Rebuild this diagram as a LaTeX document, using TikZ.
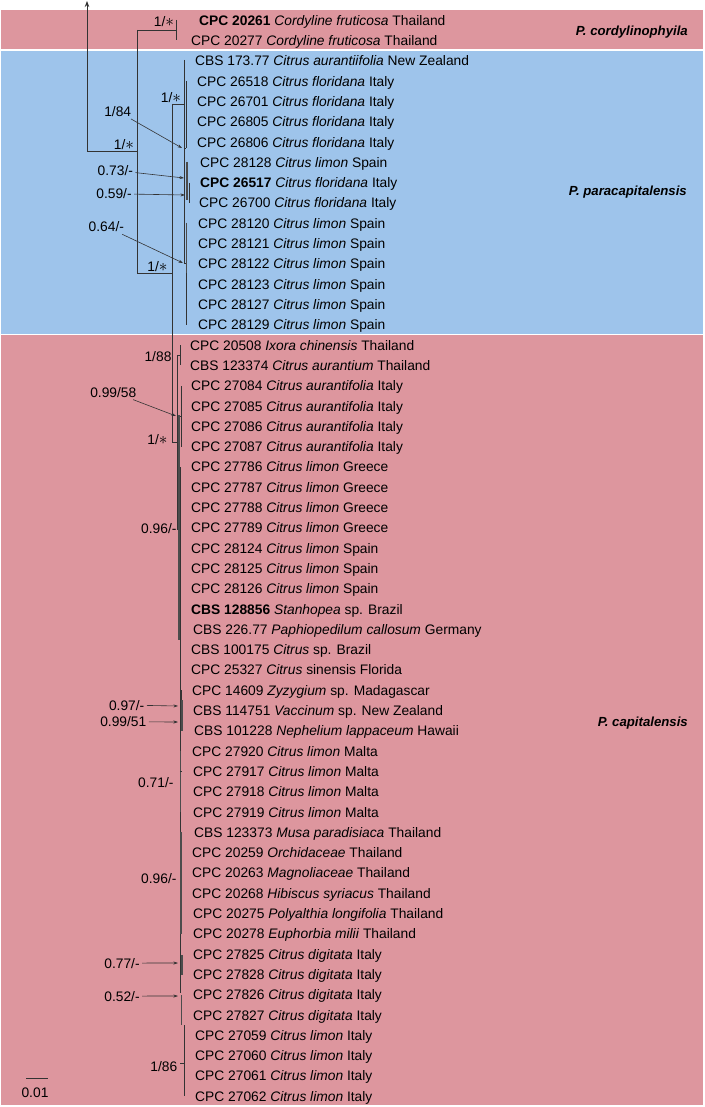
\documentclass[tikz,border=0pt]{standalone}
\usepackage{fontspec}
\setmainfont{Liberation Sans}
\usetikzlibrary{arrows.meta}
\definecolor{bandpink}{RGB}{221,150,158}
\definecolor{bandblue}{RGB}{158,196,235}
\tikzset{
  clade band/.style={fill=#1, draw=white, line width=1pt},
  tree line/.style={line width=0.9pt, black!80},
  heavy line/.style={line width=1.8pt, black!70},
  root arrow/.style={tree line, -{Stealth[length=6pt, width=4.5pt]}},
  taxon label/.style={anchor=base west, inner sep=0pt, font=\fontsize{13.8}{16}\selectfont},
  clade label/.style={anchor=base east, inner sep=0pt, font=\fontsize{13.2}{15}\selectfont\bfseries\itshape},
  support label/.style={anchor=base, inner sep=0pt, outer sep=2.5pt, font=\fontsize{13.8}{16}\selectfont},
  support arrow/.style={-{Stealth[length=4.5pt, width=3pt]}, line width=0.6pt, black!80},
  >=Stealth,
}
\newcommand{\taxonRow}[5]{
  \node[taxon label] (tx#1) at (#2, {20.3*#1+5}) {#3 \textit{#4} #5};
}
\newcommand{\support}[4]{
  \node[support label] (#1) at (#2, {#3+5}) {#4};
}
\newcommand{\st}{{\fontsize{16}{16}\selectfont$\ast$}}

\begin{document}
\begin{tikzpicture}[x=1pt, y=-1pt]
  \useasboundingbox (0,0) rectangle (704,1107);
  % clade bands
  \fill[clade band=bandpink] (0,10) rectangle (703,50);
  \fill[clade band=bandblue] (0,50.5) rectangle (703,334);
  \fill[clade band=bandpink] (0,334.5) rectangle (703,1105);
  \path[draw=white, line width=1pt] (0,10) rectangle (703,50) (0,50.5) rectangle (703,334) (0,334.5) rectangle (703,1105);

  % clade names
  \node[clade label] (cl1) at (688,35.5) {P. cordylinophyila};
  \node[clade label] (cl2) at (687,196) {P. paracapitalensis};
  \node[clade label] (cl3) at (688,726) {P. capitalensis};

  % backbone
  \draw[root arrow] (87,151) -- (87,1);
  \draw[tree line] (87,151) -- (137,151);
  \draw[tree line] (137,30) -- (137,273);
  \draw[tree line] (137,30) -- (176,30) (176,20) -- (176,40);
  \draw[tree line] (137,273) -- (172,273) (172,104) -- (172,442);

  % P. paracapitalensis
  \draw[tree line] (172,104) -- (184,104) (184,60) -- (184,148);
  \draw[tree line] (184,148) -- (186,148) (186,81) -- (186,148);
  \draw[tree line] (184,148) -- (184,263) -- (186,263);
  \draw[heavy line] (187,162) -- (187,200);
  \draw[tree line] (189,183) -- (189,203);
  \draw[tree line] (186,223) -- (186,325);
  \draw[heavy line] (186.5,223) -- (186.5,273);

  % P. capitalensis
  \draw[tree line] (172,442) -- (177,442) (177,355) -- (177,529);
  \draw[tree line] (177,355) -- (180,355) (180,345) -- (180,365);
  \draw[tree line] (177,416) -- (181,416) (181,386) -- (181,447);
  \draw[tree line] (177,529) -- (179,529);
  \draw[heavy line] (179,415) -- (179,640);
  \draw[tree line] (180,467) -- (180,993);
  \draw[tree line] (181,690) -- (181,731);
  \draw[heavy line] (182,700) -- (182,731);
  \draw[heavy line] (180.5,751) -- (180.5,812);
  \draw[tree line] (180,771) -- (182,771);
  \draw[heavy line] (181,832) -- (181,934);
  \draw[heavy line] (182,955) -- (182,975);
  \draw[heavy line] (181.5,995) -- (181.5,1025);
  \draw[tree line] (180,1063) -- (184,1063) (184,1025) -- (184,1096);

  % support values
  \support{s1}{124}{144.5}{1/\st}
  \support{s2}{164}{22}{1/\st}
  \support{s3}{171}{97.5}{1/\st}
  \support{s4}{157.5}{266}{1/\st}
  \support{s5}{117.7}{111.3}{1/84}
  \support{s6}{115.3}{170.3}{0.73/-}
  \support{s7}{114}{193.7}{0.59/-}
  \support{s8}{106.3}{226.7}{0.64/-}
  \support{s9}{158}{356}{1/88}
  \support{s10}{113.3}{392}{0.99/58}
  \support{s11}{157.5}{439}{1/\st}
  \support{s12}{158.8}{528}{0.96/-}
  \support{s13}{126.7}{705}{0.97/-}
  \support{s14}{123.3}{721.7}{0.99/51}
  \support{s15}{155.8}{782}{0.71/-}
  \support{s16}{158.8}{878.5}{0.96/-}
  \support{s17}{122}{963}{0.77/-}
  \support{s18}{122}{996}{0.52/-}
  \support{s19}{163.8}{1066}{1/86}

  \coordinate (n5) at (182,148);
  \coordinate (n6) at (184,178);
  \coordinate (n7) at (185,195);
  \coordinate (n8) at (183,263);
  \coordinate (n10) at (176,416);
  \coordinate (n13) at (178,706);
  \coordinate (n14) at (178,722);
  \coordinate (n17) at (178,963);
  \coordinate (n18) at (178,996);
  \draw[support arrow] (s5) -- (n5);
  \draw[support arrow] (s6) -- (n6);
  \draw[support arrow] (s7) -- (n7);
  \draw[support arrow] (s8) -- (n8);
  \draw[support arrow] (s10) -- (n10);
  \draw[support arrow] (s13) -- (n13);
  \draw[support arrow] (s14) -- (n14);
  \draw[support arrow] (s17) -- (n17);
  \draw[support arrow] (s18) -- (n18);

  % scale bar
  \draw[tree line] (26,1078) coordinate (sbl) -- (48,1078) coordinate (sbr);
  \node[support label] (sb) at (35,1097) {0.01};

  % taxa
  \taxonRow{1}{199}{\textbf{CPC 20261}}{Cordyline fruticosa}{Thailand}
  \taxonRow{2}{191}{CPC 20277}{Cordyline fruticosa}{Thailand}
  \taxonRow{3}{195}{CBS 173.77}{Citrus aurantiifolia}{New Zealand}
  \taxonRow{4}{197}{CPC 26518}{Citrus floridana}{Italy}
  \taxonRow{5}{197}{CPC 26701}{Citrus floridana}{Italy}
  \taxonRow{6}{197}{CPC 26805}{Citrus floridana}{Italy}
  \taxonRow{7}{197}{CPC 26806}{Citrus floridana}{Italy}
  \taxonRow{8}{200}{CPC 28128}{Citrus limon}{Spain}
  \taxonRow{9}{200}{\textbf{CPC 26517}}{Citrus floridana}{Italy}
  \taxonRow{10}{199}{CPC 26700}{Citrus floridana}{Italy}
  \taxonRow{11}{198}{CPC 28120}{Citrus limon}{Spain}
  \taxonRow{12}{198}{CPC 28121}{Citrus limon}{Spain}
  \taxonRow{13}{198}{CPC 28122}{Citrus limon}{Spain}
  \taxonRow{14}{198}{CPC 28123}{Citrus limon}{Spain}
  \taxonRow{15}{198}{CPC 28127}{Citrus limon}{Spain}
  \taxonRow{16}{198}{CPC 28129}{Citrus limon}{Spain}
  \taxonRow{17}{190}{CPC 20508}{Ixora chinensis}{Thailand}
  \taxonRow{18}{190}{CBS 123374}{Citrus aurantium}{Thailand}
  \taxonRow{19}{191}{CPC 27084}{Citrus aurantifolia}{Italy}
  \taxonRow{20}{191}{CPC 27085}{Citrus aurantifolia}{Italy}
  \taxonRow{21}{191}{CPC 27086}{Citrus aurantifolia}{Italy}
  \taxonRow{22}{191}{CPC 27087}{Citrus aurantifolia}{Italy}
  \taxonRow{23}{191}{CPC 27786}{Citrus limon}{Greece}
  \taxonRow{24}{191}{CPC 27787}{Citrus limon}{Greece}
  \taxonRow{25}{191}{CPC 27788}{Citrus limon}{Greece}
  \taxonRow{26}{191}{CPC 27789}{Citrus limon}{Greece}
  \taxonRow{27}{191}{CPC 28124}{Citrus limon}{Spain}
  \taxonRow{28}{191}{CPC 28125}{Citrus limon}{Spain}
  \taxonRow{29}{191}{CPC 28126}{Citrus limon}{Spain}
  \taxonRow{30}{191}{\textbf{CBS 128856}}{Stanhopea}{sp. Brazil}
  \taxonRow{31}{193}{CBS 226.77}{Paphiopedilum callosum}{Germany}
  \taxonRow{32}{191}{CBS 100175}{Citrus}{sp. Brazil}
  \taxonRow{33}{191}{CPC 25327}{Citrus}{sinensis Florida}
  \taxonRow{34}{192}{CPC 14609}{Zyzygium}{sp. Madagascar}
  \taxonRow{35}{193}{CBS 114751}{Vaccinum}{sp. New Zealand}
  \taxonRow{36}{194}{CBS 101228}{Nephelium lappaceum}{Hawaii}
  \taxonRow{37}{192}{CPC 27920}{Citrus limon}{Malta}
  \taxonRow{38}{193}{CPC 27917}{Citrus limon}{Malta}
  \taxonRow{39}{193}{CPC 27918}{Citrus limon}{Malta}
  \taxonRow{40}{193}{CPC 27919}{Citrus limon}{Malta}
  \taxonRow{41}{194}{CBS 123373}{Musa paradisiaca}{Thailand}
  \taxonRow{42}{192}{CPC 20259}{Orchidaceae}{Thailand}
  \taxonRow{43}{192}{CPC 20263}{Magnoliaceae}{Thailand}
  \taxonRow{44}{192}{CPC 20268}{Hibiscus syriacus}{Thailand}
  \taxonRow{45}{193}{CPC 20275}{Polyalthia longifolia}{Thailand}
  \taxonRow{46}{193}{CPC 20278}{Euphorbia milii}{Thailand}
  \taxonRow{47}{193}{CPC 27825}{Citrus digitata}{Italy}
  \taxonRow{48}{193}{CPC 27828}{Citrus digitata}{Italy}
  \taxonRow{49}{193}{CPC 27826}{Citrus digitata}{Italy}
  \taxonRow{50}{193}{CPC 27827}{Citrus digitata}{Italy}
  \taxonRow{51}{195}{CPC 27059}{Citrus limon}{Italy}
  \taxonRow{52}{195}{CPC 27060}{Citrus limon}{Italy}
  \taxonRow{53}{195}{CPC 27061}{Citrus limon}{Italy}
  \taxonRow{54}{195}{CPC 27062}{Citrus limon}{Italy}
\end{tikzpicture}
\end{document}
